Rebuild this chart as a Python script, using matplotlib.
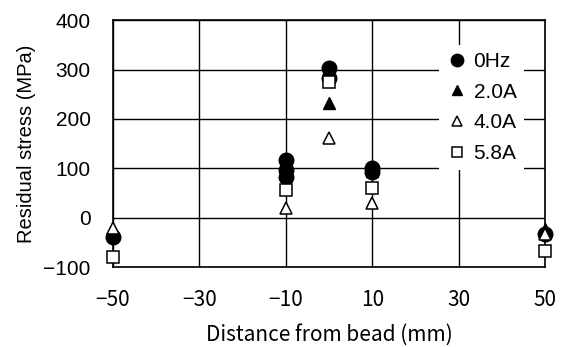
import matplotlib.pyplot as plt

# distance from bead (mm) and residual stress (MPa) per condition
x_0hz = [-50, -10, -10, -10, 0, 0, 10, 10, 50]
y_0hz = [-39, 117, 96, 82, 303, 283, 100, 92, -33]
x_20a = [-50, -10, 0, 10, 50]
y_20a = [-30, 90, 232, 95, -22]
x_40a = [-50, -10, 0, 10, 50]
y_40a = [-21, 19, 161, 30, -33]
x_58a = [-50, -10, 0, 10, 50]
y_58a = [-80, 56, 275, 60, -67]

labels = ["0Hz", "2.0A", "4.0A", "5.8A"]
xticks = [-50, -30, -10, 10, 30, 50]
yticks = [-100, 0, 100, 200, 300, 400]

jp = ["Noto Sans CJK JP", "DejaVu Sans"]
ar = "Liberation Sans"

fig = plt.figure(figsize=(5.63, 3.47), dpi=100)
ax = fig.add_axes([0.2007, 0.2305, 0.7673, 0.7115])

kw = dict(clip_on=False, zorder=3, linestyle="none")
ax.plot(x_0hz, y_0hz, "o", ms=10.5, color="black", label=labels[0], **kw)
ax.plot(x_20a, y_20a, "^", ms=9, color="black", label=labels[1], **kw)
ax.plot(x_40a, y_40a, "^", ms=9, mfc="white", mec="black", mew=1.1, label=labels[2], **kw)
ax.plot(x_58a, y_58a, "s", ms=8, mfc="white", mec="black", mew=1.1, label=labels[3], **kw)

ax.set_xlim(-50, 50)
ax.set_ylim(-100, 400)
ax.set_xticks(xticks)
ax.set_yticks(yticks)
ax.set_xticklabels(["\u221250", "\u221230", "\u221210", "10", "30", "50"], family=jp, fontsize=15)
ax.set_yticklabels(["\u2212100", "0", "100", "200", "300", "400"], family=ar, fontsize=15)
ax.tick_params(axis="x", length=0, pad=16)
ax.tick_params(axis="y", length=0, pad=16)
ax.grid(True, color="black", linewidth=1)
ax.set_axisbelow(True)
for s in ax.spines.values():
    s.set_linewidth(1.2)

ax.set_xlabel("Distance from bead (mm)", family=jp, fontsize=15, labelpad=9)
ax.set_ylabel("Residual stress (MPa)", family=ar, fontsize=14.5, labelpad=5)

leg = ax.legend(loc="upper left", bbox_to_anchor=(0.755, 0.9), frameon=True,
                fancybox=False, edgecolor="none", facecolor="white", framealpha=1,
                prop={"family": ar, "size": 15}, handletextpad=0.3, handlelength=1.0,
                borderpad=0.35, labelspacing=0.56, borderaxespad=0, markerscale=0.85)
leg.set_zorder(5)

fig.savefig("out.png", dpi=100)
